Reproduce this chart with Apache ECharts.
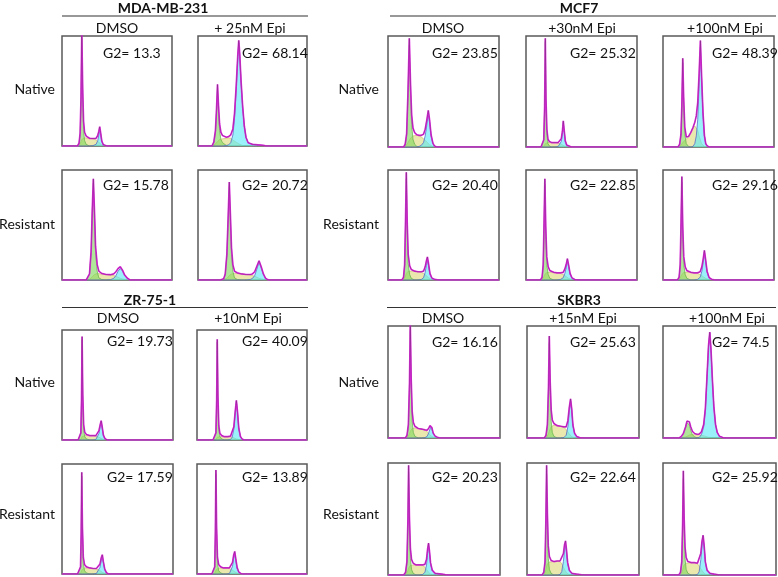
<!DOCTYPE html>
<html><head><meta charset="utf-8">
<script src="https://cdn.jsdelivr.net/npm/echarts@6/dist/echarts.min.js"></script>
<style>html,body{margin:0;padding:0;background:#fff}#c{width:778px;height:577px}</style>
</head><body><div id="c"></div>
<script>
// Each row: [channel position (% of range), G1 fit, S fit, G2 fit]  (% of panel height)
const mdaNativeDmso = [[0,0,0,0],[14,0,0,0],[15.5,2,0.5,0],[16.5,10,2,0],[17.3,40,4,0],[18,98,6,0],[18.8,45,7,0],[19.6,15,7.5,0],[20.5,5,7.5,0],[22,1.5,7.5,0],[25,0,7,0],[28,0,6.5,0.3],[31,0,5.5,1.5],[32.5,0,4.5,5],[33.5,0,3.5,10],[34.3,0,2.5,15],[35.2,0,1.5,10],[36.2,0,0.5,4],[37.5,0,0,1.2],[39,0,0,0.3],[41,0,0,0],[100,0,0,0]];
const mdaNativeEpi = [[0,0,0,0],[12.8,0,0,0],[14.5,3,0.5,0],[16,12,2,0],[17,30,3.5,0],[17.9,52,4,0],[18.8,32,5,0],[19.8,14,6,0],[21,6,6.5,0],[22.5,3,6.5,0],[24,1.5,6.5,0],[26,0.5,7,0.5],[28,0,7.5,1],[30,0,7,3],[32,0,5.5,10],[33.5,0,4.5,25],[35,0,3.5,50],[36.5,0,2.5,80],[37.4,0,2,94],[38.3,0,1.5,82],[39.5,0,1,58],[41,0,0.5,35],[42.5,0,0,18],[44,0,0,8],[46,0,0,3],[50,0,0,1.5],[55,0,0,1],[60,0,0,0.5],[63,0,0,0],[100,0,0,0]];
const mdaResistantDmso = [[0,0,0,0],[20,0,0,0],[22,0,0,0],[23.5,1,0,0],[25,5,0.5,0],[26.5,25,1.5,0],[27.5,60,3,0],[28.5,88,4,0],[29.5,58,5,0],[30.5,25,5.5,0],[32,8,6,0],[33.5,2,6,0],[36,0.5,5.5,0],[40,0,5,0],[44,0,4.5,0.3],[47,0,4,1.5],[49,0,3.5,4],[51,0,2.5,8],[53,0,1.5,10.5],[55,0,1,8],[57,0,0.5,4],[59.5,0,0,1.5],[62,0,0,0],[100,0,0,0]];
const mdaResistantEpi = [[0,0,0,0],[20,0,0,0],[23.5,1,0,0],[25,5,0.5,0],[26.5,22,1.5,0],[27.7,55,3,0],[28.7,85,4,0],[29.7,55,5,0],[30.7,24,5.5,0],[32,8,6,0],[33.5,2,6,0],[36,0.5,6,0],[40,0,5.5,0],[44,0,5,0],[48,0,4.5,0.5],[50,0,4,1.5],[52,0,3.5,4],[54,0,2.5,10],[56,0,1.5,16],[58,0,1,11],[60,0,0.5,5],[62,0,0,1.5],[64,0,0,0.3],[66,0,0,0],[100,0,0,0]];
const mcfNativeDmso = [[0,0,0,0],[14,0,0,0],[15.5,2,0.5,0],[16.8,10,2,0],[18,45,4,0],[19.2,92,6,0],[20.3,48,8,0],[21.3,20,9,0],[22.5,7,10,0],[24,2.5,10.5,0],[26,0.5,10.5,0],[28,0,10,0.5],[30,0,9,1.5],[32,0,7.5,4],[33.5,0,6,10],[35,0,4.5,20],[36.3,0,3,30],[37.5,0,2,22],[38.8,0,1,10],[40.5,0,0.3,3],[42,0,0,0.8],[44,0,0,0],[100,0,0,0]];
const mcfNative30 = [[0,0,0,0],[13.5,0,0,0],[15,1,0,0],[16,6,0.5,0],[16.8,35,1.5,0],[17.4,95,3,0],[18,40,3.5,0],[18.8,12,4,0],[19.8,3,4,0],[21,1,4,0],[23,0,4,0],[25,0,4,0],[27,0,4,0],[29,0,3.5,0.5],[30.5,0,3,1.5],[31.8,0,2.5,5],[32.8,0,2,12],[33.6,0,1.5,22],[34.4,0,1,14],[35.4,0,0.5,5],[36.7,0,0.2,1.5],[38.5,0,0,0.3],[41,0,0,0],[100,0,0,0]];
const mcfNative100 = [[0,0,0,0],[13.5,0,0,0],[15,2,0.5,0],[16.2,10,1.5,0],[17,35,2.5,0],[17.8,76,4,0],[18.6,40,5,0],[19.6,12,6,0],[21,3,6,0],[23,0.5,9,0],[25,0,13,0],[27,0,17,0.5],[28.6,0,19,3],[30,0,18,10],[31.3,0,15,25],[32.5,0,10,55],[33.7,0,6,90],[34.8,0,3,60],[36,0,1.5,30],[37.3,0,0.5,10],[38.5,0,0,3],[40,0,0,0.8],[42,0,0,0],[100,0,0,0]];
const mcfResistantDmso = [[0,0,0,0],[12.5,0,0,0],[14,2,0.5,0],[15,12,2,0],[15.8,50,4,0],[16.5,92,6,0],[17.3,45,7,0],[18.2,15,8,0],[19.5,5,8,0],[21,1.5,8,0],[24,0,8,0],[27,0,7.5,0],[30,0,7,0.5],[32,0,6,2],[33.5,0,5,7],[34.5,0,4,13],[35.5,0,3,18],[36.5,0,2,13],[37.8,0,1,5],[39.5,0,0.3,1.5],[42,0,0,0.5],[46,0,0,0],[100,0,0,0]];
const mcfResistant30 = [[0,0,0,0],[13,0,0,0],[14.5,2,0.5,0],[15.5,12,2,0],[16.3,50,3.5,0],[17,87,5,0],[17.8,42,6,0],[18.7,14,7,0],[20,5,7,0],[21.5,1.5,7,0],[25,0,7,0],[28,0,6.5,0],[31,0,6,0.5],[33.5,0,5,2],[35,0,4,6],[36.2,0,3,11],[37.3,0,2,17.5],[38.4,0,1.5,12],[39.7,0,1,5],[41.5,0,0.3,1.5],[44,0,0,0.4],[47,0,0,0],[100,0,0,0]];
const mcfResistant100 = [[0,0,0,0],[13,0,0,0],[14.5,2,0.5,0],[15.5,12,2,0],[16.3,50,3.5,0],[17,89,5,0],[17.8,42,6,0],[18.7,14,7,0],[20,5,7,0],[21.5,1.5,7,0],[25,0,7,0],[28,0,6.5,0],[31,0,6,0.5],[33.5,0,5,2.5],[35,0,4,8],[36.2,0,3,16],[37.3,0,2,25],[38.4,0,1.5,17],[39.7,0,1,7],[41.5,0,0.3,2],[44,0,0,0.5],[47,0,0,0],[100,0,0,0]];
const zrNativeDmso = [[0,0,0,0],[14.5,0,0,0],[16,1,0,0],[17,6,0.5,0],[17.6,35,1.5,0],[18.1,91,3,0],[18.7,38,3.5,0],[19.5,10,4,0],[20.5,3,4,0],[22,1,4,0],[25,0,4,0],[28,0,4,0],[30.5,0,3.5,0.5],[32,0,3,2],[33.3,0,2.5,6],[34.4,0,2,12],[35.3,0,1.5,16],[36.2,0,1,11],[37.3,0,0.5,4],[38.7,0,0.2,1],[41,0,0,0],[100,0,0,0]];
const zrNative10 = [[0,0,0,0],[14.5,0,0,0],[16,1,0,0],[17.2,6,0.5,0],[17.9,35,1.5,0],[18.4,89,2.5,0],[19,38,3,0],[19.8,10,3,0],[20.8,3,3,0],[22.5,1,3,0],[25,0,3,0],[28,0,3,0],[30.5,0,3,0.5],[32,0,2.5,2.5],[33.5,0,2,10],[34.8,0,1.5,25],[35.8,0,1,35],[36.8,0,0.8,25],[38,0,0.5,10],[39.5,0,0.2,3],[41,0,0,0.8],[43,0,0,0],[100,0,0,0]];
const zrResistantDmso = [[0,0,0,0],[14,0,0,0],[15.6,1,0,0],[16.7,6,0.5,0],[17.3,35,2,0],[17.8,89,3.5,0],[18.4,38,4.5,0],[19.2,10,5,0],[20.3,3,5.5,0],[22,1,5.5,0],[25,0,5.5,0],[28,0,5,0],[31,0,4.5,0.5],[32.8,0,3.5,2],[34.2,0,3,6],[35.3,0,2.5,12],[36.3,0,1.5,16],[37.3,0,1,10],[38.5,0,0.5,4],[40,0,0.2,1],[42,0,0,0],[100,0,0,0]];
const zrResistant10 = [[0,0,0,0],[13.5,0,0,0],[15,1,0,0],[16.1,6,0.5,0],[16.7,35,2,0],[17.2,91,3.5,0],[17.8,38,4.5,0],[18.6,10,5,0],[19.7,3,5.5,0],[21.5,1,5.5,0],[24,0,5.5,0],[27,0,5.5,0],[29.5,0,5,0.5],[31,0,4,2],[32.3,0,3.5,7],[33.3,0,3,14],[34.3,0,2,18.5],[35.3,0,1.5,12],[36.5,0,0.8,5],[38,0,0.3,1.5],[40,0,0,0.3],[42,0,0,0],[100,0,0,0]];
const skNativeDmso = [[0,0,0,0],[15.5,0,0,0],[17,2,0.5,0],[18.2,10,2,0],[19.2,45,4,0],[19.9,96,6,0],[20.7,45,7.5,0],[21.6,15,8.5,0],[22.6,5,9,0],[24,1.5,9,0],[27,0,8.5,0],[30,0,8,0],[33,0,7,0.3],[35,0,5.5,1.5],[36.5,0,4,5],[37.5,0,3,8],[38.3,0,2,10],[39.2,0,1.2,8],[40.3,0,0.6,4],[42,0,0.2,1.5],[44,0,0,0.6],[47,0,0,0],[100,0,0,0]];
const skNative15 = [[0,0,0,0],[15.5,0,0,0],[17,2,0.5,0],[18.2,10,2,0],[19.2,42,4,0],[19.9,85,6,0],[20.7,42,8,0],[21.6,15,10,0],[22.6,5,11,0],[24,1.5,11.5,0],[27,0,11,0],[30,0,10.5,0],[33,0,9.5,0.5],[35,0,7.5,2.5],[36.5,0,5.5,10],[37.8,0,3.5,24],[38.9,0,2,33],[39.9,0,1.2,25],[41,0,0.6,11],[42.5,0,0.2,4],[44.5,0,0,1.2],[47,0,0,0.3],[50,0,0,0],[100,0,0,0]];
const skNative100 = [[0,0,0,0],[14,0,0,0],[16,1,0.2,0],[18,3.5,0.5,0],[20,9,1,0],[21.2,13.5,1.5,0],[22.2,14.5,2,0],[23.3,12,2.5,0],[24.5,7,3,0],[26,3,3,0],[28,1,3,0],[30,0.3,3,0],[32,0,3,0.5],[34,0,2.5,3],[36,0,2,10],[37.5,0,1.5,25],[39,0,1,55],[40.3,0,0.7,82],[41.4,0,0.5,94],[42.5,0,0.3,78],[43.8,0,0.2,50],[45,0,0,28],[46.5,0,0,12],[48,0,0,5],[50,0,0,1.5],[53,0,0,0.3],[55,0,0,0],[100,0,0,0]];
const skResistantDmso = [[0,0,0,0],[14,0,0,0],[15.7,2,0.5,0],[16.9,10,2,0],[17.8,45,4,0],[18.4,92,6,0],[19.1,45,7.5,0],[20,15,8.5,0],[21,5,9,0],[22.5,1.5,9,0],[25,0,9,0],[28,0,9,0],[31,0,8.5,0.5],[33,0,7,2.5],[34.4,0,5,9],[35.4,0,3.5,20],[36.2,0,2.5,26],[37,0,1.5,20],[38,0,0.8,10],[39.5,0,0.3,4],[42,0,0,1.5],[46,0,0,1],[51,0,0,0.3],[54,0,0,0],[100,0,0,0]];
const skResistant15 = [[0,0,0,0],[13.5,0,0,0],[15,2,0.5,0],[16.1,10,2,0],[16.9,45,5,0],[17.5,90,8,0],[18.2,45,10,0],[19,15,11,0],[20,5,11.5,0],[21.5,1.5,11.5,0],[24,0,12,0],[27,0,12.5,0],[29.5,0,12,0.5],[31,0,10,3],[32.5,0,7,12],[33.5,0,5,22],[34.4,0,3.5,27],[35.3,0,2,20],[36.3,0,1,10],[37.8,0,0.3,4],[40,0,0,1.5],[44,0,0,0.8],[49,0,0,0.2],[52,0,0,0],[100,0,0,0]];
const skResistant100 = [[0,0,0,0],[14,0,0,0],[15.5,2,0.5,0],[16.6,10,2,0],[17.4,42,4.5,0],[18,86,7,0],[18.7,42,9,0],[19.5,15,10,0],[20.5,5,10.5,0],[22,1.5,10.5,0],[25,0,11,0],[28,0,11,0],[30.5,0,10,0.5],[32,0,8,3],[33.5,0,5.5,14],[34.5,0,4,26],[35.5,0,2.5,33],[36.4,0,1.5,25],[37.5,0,0.7,11],[39,0,0.3,4],[41.5,0,0,1.5],[45,0,0,0.8],[49,0,0,0.2],[52,0,0,0],[100,0,0,0]];

const g2Values = ['13.3','68.14','15.78','20.72','23.85','25.32','48.39','20.40','22.85','29.16','19.73','40.09','17.59','13.89','16.16','25.63','74.5','20.23','22.64','25.92'];
const cellLines = ['MDA-MB-231','MCF7','ZR-75-1','SKBR3'];
const treatments = [['DMSO','+ 25nM Epi'],['DMSO','+30nM Epi','+100nM Epi'],['DMSO','+10nM Epi'],['DMSO','+15nM Epi','+100nM Epi']];
const rowNames = ['Native','Resistant'];

const panelData = [mdaNativeDmso,mdaNativeEpi,mdaResistantDmso,mdaResistantEpi,
  mcfNativeDmso,mcfNative30,mcfNative100,mcfResistantDmso,mcfResistant30,mcfResistant100,
  zrNativeDmso,zrNative10,zrResistantDmso,zrResistant10,
  skNativeDmso,skNative15,skNative100,skResistantDmso,skResistant15,skResistant100];

// ---- layout (pixels) ----
const groupLayout = [
  {cols:[[62,172],[198,307]], rows:[[36,146],[170,280]], title:[163,8], line:[62,308,16], colY:28, rowLabX:55, rowLabY:[89,224], g2Y:[53,185]},
  {cols:[[388,499],[526,637],[663,774]], rows:[[36,147],[170,280]], title:[579,8], line:[390,776,16], colY:28, rowLabX:379, rowLabY:[89,224], g2Y:[53,185]},
  {cols:[[62,173],[197,307]], rows:[[330,440],[464,574]], title:[150,300], line:[62,308,307.5], colY:318, rowLabX:55, rowLabY:[382,514], g2Y:[341.5,477.5]},
  {cols:[[388,500],[527,639],[663,776]], rows:[[326,438],[463,575]], title:[579,300], line:[387,776,307.5], colY:318, rowLabX:379, rowLabY:[382,514], g2Y:[342,477.5]}
];
const colCenters = [[117,250],[443,582,725],[118,248],[443,583,727]];
const g2OffX = [[41,44],[44,44,49],[45,45],[44,43,49]];

const FONT = 'Lato, "Open Sans", sans-serif';
const grids=[], xAxes=[], yAxes=[], series=[], graphics=[];
let p = 0;
groupLayout.forEach((g, gi) => {
  graphics.push({type:'text', style:{text:cellLines[gi], x:g.title[0], y:g.title[1], textAlign:'center', textVerticalAlign:'middle', font:'bold 14px '+FONT, fill:'#111'}});
  graphics.push({type:'line', shape:{x1:g.line[0], y1:g.line[2], x2:g.line[1], y2:g.line[2]}, style:{stroke:'#333', lineWidth:1.2}});
  treatments[gi].forEach((t, ci) => {
    graphics.push({type:'text', style:{text:t, x:colCenters[gi][ci], y:g.colY, textAlign:'center', textVerticalAlign:'middle', font:'14px '+FONT, fill:'#111'}});
  });
  g.rows.forEach((r, ri) => {
    graphics.push({type:'text', style:{text:rowNames[ri], x:g.rowLabX, y:g.rowLabY[ri], textAlign:'right', textVerticalAlign:'middle', font:'14px '+FONT, fill:'#111'}});
    g.cols.forEach((c, ci) => {
      const d = panelData[p];
      grids.push({left:c[0], top:r[0], width:c[1]-c[0], height:r[1]-r[0], show:true, borderColor:'#5a5a5a', borderWidth:1.5, backgroundColor:'#fff'});
      xAxes.push({gridIndex:p, type:'value', min:0, max:100, show:false});
      yAxes.push({gridIndex:p, type:'value', min:0, max:100, show:false});
      const base = {type:'line', xAxisIndex:p, yAxisIndex:p, symbol:'none', silent:true, animation:false, clip:true};
      series.push(Object.assign({}, base, {data:d.map(v=>[v[0],v[2]]), z:2, lineStyle:{width:0.6,color:'#c0b860'}, areaStyle:{color:'rgba(224,218,125,0.9)'}}));
      series.push(Object.assign({}, base, {data:d.map(v=>[v[0],v[1]]), z:3, lineStyle:{width:0.7,color:'#60b048'}, areaStyle:{color:'rgba(130,215,95,0.9)'}}));
      series.push(Object.assign({}, base, {data:d.map(v=>[v[0],v[3]]), z:4, lineStyle:{width:0.8,color:'#5a68c8'}, areaStyle:{color:'rgba(85,232,245,0.85)'}}));
      series.push(Object.assign({}, base, {data:d.map(v=>[v[0],v[1]+v[2]+v[3]]), z:5, lineStyle:{width:1.7,color:'#e428e4'}}));
      series.push(Object.assign({}, base, {data:d.map(v=>[v[0],v[1]+v[2]+v[3]]), z:6, lineStyle:{width:0.5,color:'#333',opacity:0.6}}));
      graphics.push({type:'text', z:100, style:{text:'G2= '+g2Values[p], x:c[0]+g2OffX[gi][ci], y:g.g2Y[ri], textAlign:'left', textVerticalAlign:'middle', font:'14px '+FONT, fill:'#111'}});
      p++;
    });
  });
});

const chart = echarts.init(document.getElementById('c'), null, {renderer:'canvas'});
chart.setOption({animation:false, backgroundColor:'#fff', grid:grids, xAxis:xAxes, yAxis:yAxes, series:series, graphic:graphics});
</script>
</body></html>
